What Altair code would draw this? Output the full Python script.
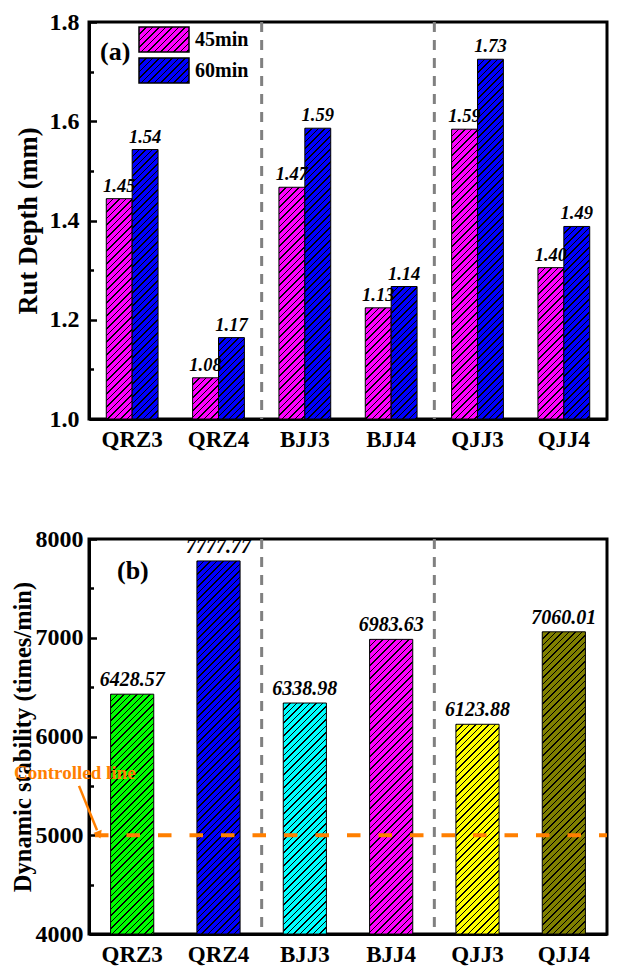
import altair as alt
import pandas as pd

# ---------------- data ----------------
samples = ["QRZ3", "QRZ4", "BJJ3", "BJJ4", "QJJ3", "QJJ4"]
series = ["45min", "60min"]
series_colors = ["#FF00FF", "#0000FF"]

# bar heights as drawn in panel (a)
rut_45 = [1.444, 1.083, 1.467, 1.224, 1.584, 1.305]
rut_60 = [1.543, 1.164, 1.586, 1.267, 1.725, 1.388]
# value labels as printed in panel (a)
rut_45_text = ["1.45", "1.08", "1.47", "1.13", "1.59", "1.40"]
rut_60_text = ["1.54", "1.17", "1.59", "1.14", "1.73", "1.49"]

stability = [6428.57, 7777.77, 6338.98, 6983.63, 6123.88, 7060.01]
stability_colors = ["#00FF00", "#0000FF", "#00FFFF", "#FF00FF", "#FFFF00", "#808000"]
controlled_value = [5000]
group_starts = ["BJJ3", "QJJ3"]   # dashed separators sit just before these

ticks_a = [1.0, 1.1, 1.2, 1.3, 1.4, 1.5, 1.6, 1.7, 1.8]
ticks_b = [4000, 4500, 5000, 5500, 6000, 6500, 7000, 7500, 8000]

# ---------------- style ----------------
FONT = "Liberation Serif"
ORANGE = "#FF7F00"
W_A, H_A = 518, 397
W_B, H_B = 518, 395
Y_A = [1.0, 1.8]
Y_B = [4000, 8000]
PI_A, PO_A = 0.4, 0.2
PI_B, PO_B = 0.5, 0.25


def band_step(W, n, pi, po):
    return W / (n - pi + 2 * po)


def hatch(color, w, h, period=6.5, line=1.5, ink="#000000"):
    """45-degree '/' hatch as a linear gradient in bounding-box units."""
    L = w + h
    stops = []
    x = 0.0
    while x < L:
        a = x / L
        b = min((x + line) / L, 1.0)
        nxt = min((x + period) / L, 1.0)
        stops += [
            {"offset": a, "color": ink},
            {"offset": b, "color": ink},
            {"offset": b, "color": color},
            {"offset": nxt, "color": color},
        ]
        x += period
    s = (w + h) / (w * w + h * h)
    return {"gradient": "linear", "x1": 0, "y1": 0, "x2": s * w, "y2": s * h, "stops": stops}


def x_axis(pad):
    return alt.Axis(labelAngle=0, ticks=False, grid=False, domainColor="black", domainWidth=3,
                    labelFont=FONT, labelFontSize=23, labelFontWeight="bold", labelColor="black",
                    labelPadding=pad)


def y_axis(values, test, fmt, lpad, tsize, tpad):
    return alt.Axis(values=values, labelExpr=f"({test}) ? format(datum.value, '{fmt}') : ''",
                    ticks=False, grid=True, gridColor="black", gridWidth=2.5, gridOpacity=1,
                    gridDash={"condition": {"test": test, "value": [7.5, 3000]}, "value": [4.5, 3000]},
                    domainColor="black", domainWidth=3,
                    labelFont=FONT, labelFontSize=24, labelFontWeight="bold", labelColor="black",
                    labelPadding=lpad, titleFont=FONT, titleFontSize=tsize, titleFontWeight="bold",
                    titleColor="black", titlePadding=tpad)


# ---------------- panel (a) ----------------
rut = pd.DataFrame({
    "sample": samples * 2,
    "series": [s for s in series for _ in samples],
    "value": rut_45 + rut_60,
    "label": rut_45_text + rut_60_text,
})

test_a = "round(datum.value * 10) % 2 === 0"
xa = alt.X("sample:N", sort=samples, title=None,
           scale=alt.Scale(domain=samples, paddingInner=PI_A, paddingOuter=PO_A), axis=x_axis(9))
xoff = alt.XOffset("series:N", sort=series, scale=alt.Scale(domain=series))
ya = alt.Y("value:Q", title="Rut Depth (mm)",
           scale=alt.Scale(domain=Y_A, nice=False, zero=False),
           axis=y_axis(ticks_a, test_a, ".1f", 10, 26.5, 7))

step_a = band_step(W_A, len(samples), PI_A, PO_A)
wa = step_a * (1 - PI_A) / 2
layers_a = []
for s, col, vals in zip(series, series_colors, [rut_45, rut_60]):
    for smp, v in zip(samples, vals):
        h = (v - Y_A[0]) / (Y_A[1] - Y_A[0]) * H_A
        layers_a.append(
            alt.Chart(rut)
            .transform_filter(f"datum.sample === '{smp}' && datum.series === '{s}'")
            .mark_bar(stroke="black", strokeWidth=1)
            .encode(x=xa, xOffset=xoff, y=ya, y2=alt.datum(Y_A[0]), fill=alt.value(hatch(col, wa, h)))
        )

labels_a = alt.Chart(rut).mark_text(
    dy=-7, baseline="alphabetic", font=FONT, fontSize=18.5, fontStyle="italic", fontWeight="bold", color="black"
).encode(x=xa, xOffset=xoff, y=ya, text="label:N")

sep_a = alt.Chart(pd.DataFrame({"sample": group_starts})).mark_rule(
    color="#808080", strokeWidth=3, strokeDash=[10, 8], xOffset=-PI_A * step_a / 2
).encode(
    x=alt.X("sample:N", sort=samples, bandPosition=0, title=None,
            scale=alt.Scale(domain=samples, paddingInner=PI_A, paddingOuter=PO_A), axis=x_axis(9)),
    y=alt.value(0), y2=alt.value(H_A),
)

legend_df = pd.DataFrame({"series": series})
legend_layers = []
for i, (s, col) in enumerate(zip(series, series_colors)):
    legend_layers.append(
        alt.Chart(legend_df).transform_filter(f"datum.series === '{s}'")
        .mark_rect(stroke="black", strokeWidth=1.5)
        .encode(x=alt.value(50), x2=alt.value(100), y=alt.value(5 + 31 * i), y2=alt.value(30 + 31 * i),
                fill=alt.value(hatch(col, 50, 25)))
    )
    legend_layers.append(
        alt.Chart(legend_df).transform_filter(f"datum.series === '{s}'")
        .mark_text(align="left", baseline="middle", font=FONT, fontSize=20, fontWeight="bold", color="black")
        .encode(x=alt.value(106), y=alt.value(18 + 31 * i), text="series:N")
    )

tag_a = alt.Chart(pd.DataFrame({"t": ["(a)"]})).mark_text(
    align="left", baseline="middle", font=FONT, fontSize=26, fontWeight="bold", color="black"
).encode(x=alt.value(11), y=alt.value(30), text="t:N")

chart_a = alt.layer(sep_a, *layers_a, labels_a, *legend_layers, tag_a).properties(width=W_A, height=H_A)

# ---------------- panel (b) ----------------
stab = pd.DataFrame({"sample": samples, "value": stability})
test_b = "datum.value % 1000 === 0"
xb = alt.X("sample:N", sort=samples, title=None,
           scale=alt.Scale(domain=samples, paddingInner=PI_B, paddingOuter=PO_B), axis=x_axis(9))
yb = alt.Y("value:Q", title="Dynamic stability (times/min)",
           scale=alt.Scale(domain=Y_B, nice=False, zero=False),
           axis=y_axis(ticks_b, test_b, "d", 6, 24.5, 0))

step_b = band_step(W_B, len(samples), PI_B, PO_B)
wb = step_b * (1 - PI_B)
layers_b = []
for smp, v, col in zip(samples, stability, stability_colors):
    h = (v - Y_B[0]) / (Y_B[1] - Y_B[0]) * H_B
    layers_b.append(
        alt.Chart(stab).transform_filter(f"datum.sample === '{smp}'")
        .mark_bar(stroke="black", strokeWidth=1)
        .encode(x=xb, y=yb, y2=alt.datum(Y_B[0]), fill=alt.value(hatch(col, wb, h)))
    )

labels_b = alt.Chart(stab).mark_text(
    dy=-8, baseline="alphabetic", font=FONT, fontSize=20, fontStyle="italic", fontWeight="bold", color="black"
).encode(x=xb, y=yb, text=alt.Text("value:Q", format=".2f"))

sep_b = alt.Chart(pd.DataFrame({"sample": group_starts})).mark_rule(
    color="#808080", strokeWidth=3, strokeDash=[10, 8], xOffset=-PI_B * step_b / 2
).encode(
    x=alt.X("sample:N", sort=samples, bandPosition=0, title=None,
            scale=alt.Scale(domain=samples, paddingInner=PI_B, paddingOuter=PO_B), axis=x_axis(9)),
    y=alt.value(0), y2=alt.value(H_B - 5),
)

ctrl = alt.Chart(pd.DataFrame({"value": controlled_value})).mark_rule(
    color=ORANGE, strokeWidth=4, strokeDash=[13.5, 18]
).encode(y=yb, x=alt.value(6), x2=alt.value(W_B))

ctrl_text = alt.Chart(pd.DataFrame({"t": ["Controlled line"]})).mark_text(
    align="left", baseline="middle", font=FONT, fontSize=19, fontWeight="bold", color=ORANGE
).encode(x=alt.value(-75), y=alt.datum(5630), text="t:N")

arrow = alt.Chart(pd.DataFrame({"t": ["arrow"]})).mark_rule(color=ORANGE, strokeWidth=2.5).encode(
    x=alt.value(-10), x2=alt.value(8), y=alt.datum(5500), y2=alt.datum(5050)
)
arrow_head = alt.Chart(pd.DataFrame({"t": ["arrow"]})).mark_point(
    shape="triangle", filled=True, size=80, angle=158, color=ORANGE, opacity=1
).encode(x=alt.value(9.5), y=alt.datum(5015))

tag_b = alt.Chart(pd.DataFrame({"t": ["(b)"]})).mark_text(
    align="left", baseline="middle", font=FONT, fontSize=26, fontWeight="bold", color="black"
).encode(x=alt.value(28), y=alt.value(32), text="t:N")

chart_b = alt.layer(sep_b, *layers_b, ctrl, labels_b, ctrl_text, arrow, arrow_head, tag_b).properties(
    width=W_B, height=H_B)

chart = alt.vconcat(chart_a, chart_b, spacing=72).properties(padding=0).configure_view(
    stroke="black", strokeWidth=3
)

chart.save("out.html", embed_options={"renderer": "svg", "actions": False})
